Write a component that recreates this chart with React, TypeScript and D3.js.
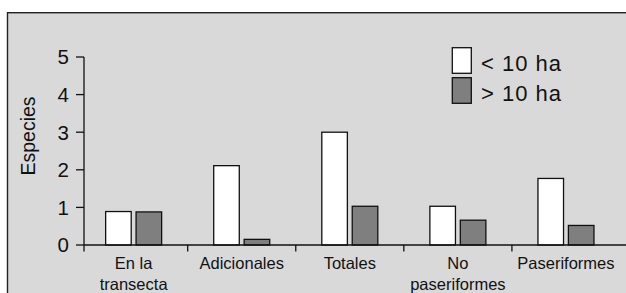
import React from "react";
import * as d3 from "d3";

const categories: string[][] = [
  ["En la", "transecta"],
  ["Adicionales"],
  ["Totales"],
  ["No", "paseriformes"],
  ["Paseriformes"],
];
const seriesNames = ["< 10 ha", "> 10 ha"];
const small = [0.89, 2.11, 3.0, 1.03, 1.77];
const large = [0.88, 0.15, 1.03, 0.66, 0.52];
const yTicks = [0, 1, 2, 3, 4, 5];
const yLabel = "Especies";
const colors = ["#ffffff", "#7f7f7f"];

const W = 626;
const H = 293;
const FONT = "Liberation Sans, Arial, Helvetica, sans-serif";

export default function App() {
  const keys = categories.map((c) => c.join(" "));
  const x0 = d3.scaleBand<string>().domain(keys).range([79.6, 620]).paddingInner(0).paddingOuter(0);
  const y = d3.scaleLinear().domain([0, 5]).range([245, 57]);
  const axisX = 84;
  const values = [small, large];

  return (
    <svg
      width={W}
      height={H}
      style={{ position: "absolute", left: 0, top: 0, display: "block" }}
      fontFamily={FONT}
    >
      <rect x={0} y={0} width={W} height={H} fill="#ffffff" />
      <rect x={7.5} y={12.7} width={W + 20} height={H + 20} fill="#d9d9d9" stroke="#222" strokeWidth={1.4} />

      {/* bars */}
      {keys.map((k, i) => {
        const cx = (x0(k) as number) + x0.bandwidth() / 2;
        const x1 = d3.scaleBand<string>().domain(seriesNames).range([cx - 28, cx + 28]).paddingInner(0.16);
        return (
          <g key={k}>
            {seriesNames.map((s, j) => {
              const v = values[j][i];
              return (
                <rect
                  key={s}
                  x={x1(s)}
                  y={y(v)}
                  width={x1.bandwidth()}
                  height={y(0) - y(v)}
                  fill={colors[j]}
                  stroke="#111"
                  strokeWidth={1.3}
                />
              );
            })}
          </g>
        );
      })}

      {/* y axis */}
      <line x1={axisX} x2={axisX} y1={y(5)} y2={251.5} stroke="#111" strokeWidth={1.3} />
      {yTicks.map((t) => (
        <g key={t}>
          <line x1={axisX - 8} x2={axisX} y1={y(t)} y2={y(t)} stroke="#111" strokeWidth={1.3} />
          <text x={69} y={y(t)} dy="0.36em" textAnchor="end" fontSize={20.5} fill="#111">
            {t}
          </text>
        </g>
      ))}
      <text
        transform={`translate(35,136) rotate(-90)`}
        textAnchor="middle"
        fontSize={19.5}
        fill="#111"
      >
        {yLabel}
      </text>

      {/* x axis */}
      <line x1={axisX} x2={W} y1={y(0)} y2={y(0)} stroke="#111" strokeWidth={1.3} />
      {keys.slice(1).map((k) => (
        <line key={k} x1={x0(k)} x2={x0(k)} y1={y(0)} y2={251.5} stroke="#111" strokeWidth={1.3} />
      ))}
      {categories.map((lines, i) => {
        const cx = (x0(keys[i]) as number) + x0.bandwidth() / 2;
        return (
          <text key={i} textAnchor="middle" fontSize={16.5} fill="#111">
            {lines.map((l, j) => (
              <tspan key={j} x={cx} y={268.5 + j * 21.5}>
                {l}
              </tspan>
            ))}
          </text>
        );
      })}

      {/* legend */}
      {seriesNames.map((s, j) => (
        <g key={s}>
          <rect x={452.3} y={47.7 + j * 30} width={19} height={25.6} fill={colors[j]} stroke="#111" strokeWidth={1.3} />
          <text x={481} y={70.8 + j * 30} fontSize={22} letterSpacing={1} fill="#111">
            {s}
          </text>
        </g>
      ))}
    </svg>
  );
}
